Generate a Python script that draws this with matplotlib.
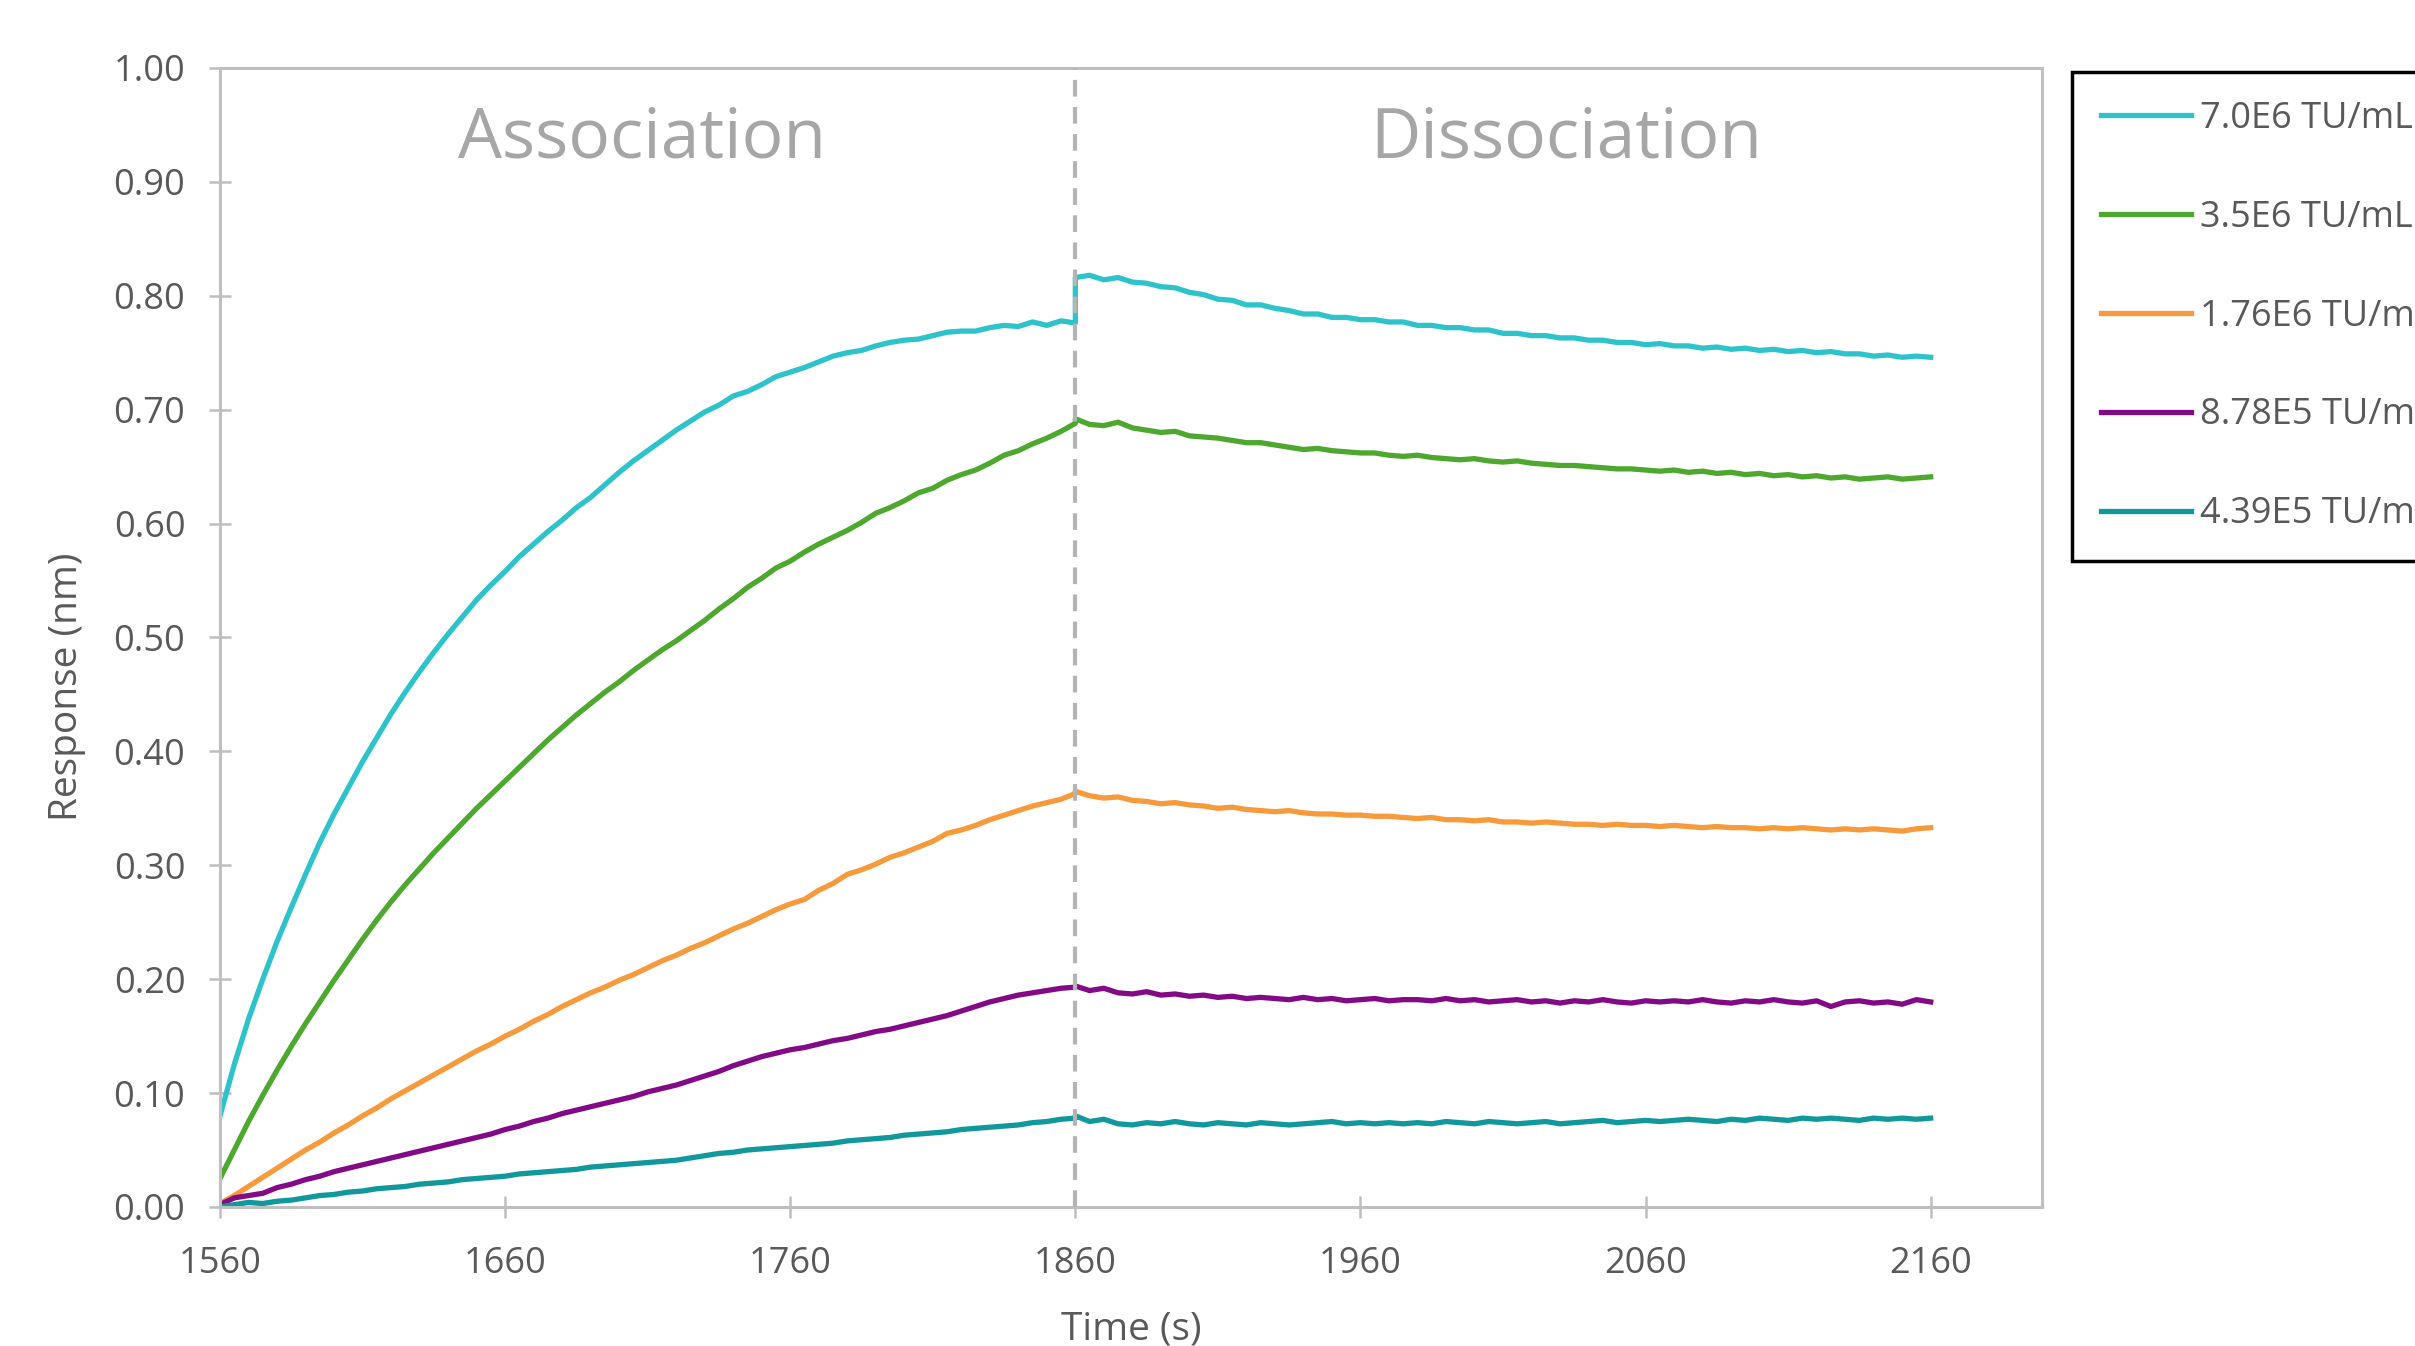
import numpy as np
import matplotlib
matplotlib.use('Agg')
from matplotlib import pyplot as plt
from matplotlib.ticker import FormatStrFormatter

plt.rcParams['font.family'] = ['Open Sans', 'DejaVu Sans']

# 时间轴：结合段与解离段，每 5 s 一个读数
assoc_time = np.arange(1560, 1861, 5)
dissoc_time = np.arange(1860, 2161, 5)

labels = ['7.0E6 TU/mL', '3.5E6 TU/mL', '1.76E6 TU/mL', '8.78E5 TU/mL', '4.39E5 TU/mL']
colors = ['#2EC3CB', '#4EA72E', '#F79A3B', '#820A86', '#10989C']

# 7.0E6
cyan_assoc = [0.080, 0.125, 0.165, 0.200, 0.233, 0.263, 0.292, 0.320, 0.345, 0.368,
              0.391, 0.412, 0.433, 0.452, 0.470, 0.487, 0.503, 0.518, 0.533, 0.546,
              0.558, 0.571, 0.582, 0.593, 0.603, 0.614, 0.623, 0.634, 0.645, 0.655,
              0.664, 0.673, 0.682, 0.690, 0.698, 0.704, 0.712, 0.716, 0.722, 0.729,
              0.733, 0.737, 0.742, 0.747, 0.750, 0.752, 0.756, 0.759, 0.761, 0.762,
              0.765, 0.768, 0.769, 0.769, 0.772, 0.774, 0.773, 0.777, 0.774, 0.778,
              0.776]
cyan_dissoc = [0.816, 0.818, 0.814, 0.816, 0.812, 0.811, 0.808, 0.807, 0.803, 0.801,
               0.797, 0.796, 0.792, 0.792, 0.789, 0.787, 0.784, 0.784, 0.781, 0.781,
               0.779, 0.779, 0.777, 0.777, 0.774, 0.774, 0.772, 0.772, 0.770, 0.770,
               0.767, 0.767, 0.765, 0.765, 0.763, 0.763, 0.761, 0.761, 0.759, 0.759,
               0.757, 0.758, 0.756, 0.756, 0.754, 0.755, 0.753, 0.754, 0.752, 0.753,
               0.751, 0.752, 0.750, 0.751, 0.749, 0.749, 0.747, 0.748, 0.746, 0.747,
               0.746]

# 3.5E6
green_assoc = [0.025, 0.050, 0.075, 0.098, 0.120, 0.141, 0.161, 0.180, 0.199, 0.217,
               0.235, 0.252, 0.268, 0.283, 0.297, 0.311, 0.324, 0.337, 0.350, 0.362,
               0.374, 0.386, 0.398, 0.410, 0.421, 0.432, 0.442, 0.452, 0.461, 0.471,
               0.480, 0.489, 0.497, 0.506, 0.515, 0.525, 0.534, 0.544, 0.552, 0.561,
               0.567, 0.575, 0.582, 0.588, 0.594, 0.601, 0.609, 0.614, 0.620, 0.627,
               0.631, 0.638, 0.643, 0.647, 0.653, 0.660, 0.664, 0.670, 0.675, 0.681,
               0.688]
green_dissoc = [0.692, 0.687, 0.686, 0.689, 0.684, 0.682, 0.680, 0.681, 0.677, 0.676,
                0.675, 0.673, 0.671, 0.671, 0.669, 0.667, 0.665, 0.666, 0.664, 0.663,
                0.662, 0.662, 0.660, 0.659, 0.660, 0.658, 0.657, 0.656, 0.657, 0.655,
                0.654, 0.655, 0.653, 0.652, 0.651, 0.651, 0.650, 0.649, 0.648, 0.648,
                0.647, 0.646, 0.647, 0.645, 0.646, 0.644, 0.645, 0.643, 0.644, 0.642,
                0.643, 0.641, 0.642, 0.640, 0.641, 0.639, 0.640, 0.641, 0.639, 0.640,
                0.641]

# 1.76E6
orange_assoc = [0.003, 0.010, 0.018, 0.026, 0.034, 0.042, 0.050, 0.057, 0.065, 0.072,
                0.080, 0.087, 0.095, 0.102, 0.109, 0.116, 0.123, 0.130, 0.137, 0.143,
                0.150, 0.156, 0.163, 0.169, 0.176, 0.182, 0.188, 0.193, 0.199, 0.204,
                0.210, 0.216, 0.221, 0.227, 0.232, 0.238, 0.244, 0.249, 0.255, 0.261,
                0.266, 0.270, 0.278, 0.284, 0.292, 0.296, 0.301, 0.307, 0.311, 0.316,
                0.321, 0.328, 0.331, 0.335, 0.340, 0.344, 0.348, 0.352, 0.355, 0.358,
                0.363]
orange_dissoc = [0.365, 0.361, 0.359, 0.360, 0.357, 0.356, 0.354, 0.355, 0.353, 0.352,
                 0.350, 0.351, 0.349, 0.348, 0.347, 0.348, 0.346, 0.345, 0.345, 0.344,
                 0.344, 0.343, 0.343, 0.342, 0.341, 0.342, 0.340, 0.340, 0.339, 0.340,
                 0.338, 0.338, 0.337, 0.338, 0.337, 0.336, 0.336, 0.335, 0.336, 0.335,
                 0.335, 0.334, 0.335, 0.334, 0.333, 0.334, 0.333, 0.333, 0.332, 0.333,
                 0.332, 0.333, 0.332, 0.331, 0.332, 0.331, 0.332, 0.331, 0.330, 0.332,
                 0.333]

# 8.78E5
purple_assoc = [0.002, 0.008, 0.010, 0.012, 0.017, 0.020, 0.024, 0.027, 0.031, 0.034,
                0.037, 0.040, 0.043, 0.046, 0.049, 0.052, 0.055, 0.058, 0.061, 0.064,
                0.068, 0.071, 0.075, 0.078, 0.082, 0.085, 0.088, 0.091, 0.094, 0.097,
                0.101, 0.104, 0.107, 0.111, 0.115, 0.119, 0.124, 0.128, 0.132, 0.135,
                0.138, 0.140, 0.143, 0.146, 0.148, 0.151, 0.154, 0.156, 0.159, 0.162,
                0.165, 0.168, 0.172, 0.176, 0.180, 0.183, 0.186, 0.188, 0.190, 0.192,
                0.193]
purple_dissoc = [0.194, 0.190, 0.192, 0.188, 0.187, 0.189, 0.186, 0.187, 0.185, 0.186,
                 0.184, 0.185, 0.183, 0.184, 0.183, 0.182, 0.184, 0.182, 0.183, 0.181,
                 0.182, 0.183, 0.181, 0.182, 0.182, 0.181, 0.183, 0.181, 0.182, 0.180,
                 0.181, 0.182, 0.180, 0.181, 0.179, 0.181, 0.180, 0.182, 0.180, 0.179,
                 0.181, 0.180, 0.181, 0.180, 0.182, 0.180, 0.179, 0.181, 0.180, 0.182,
                 0.180, 0.179, 0.181, 0.176, 0.180, 0.181, 0.179, 0.180, 0.178, 0.182,
                 0.180]

# 4.39E5
teal_assoc = [0.000, 0.002, 0.004, 0.003, 0.005, 0.006, 0.008, 0.010, 0.011, 0.013,
              0.014, 0.016, 0.017, 0.018, 0.020, 0.021, 0.022, 0.024, 0.025, 0.026,
              0.027, 0.029, 0.030, 0.031, 0.032, 0.033, 0.035, 0.036, 0.037, 0.038,
              0.039, 0.040, 0.041, 0.043, 0.045, 0.047, 0.048, 0.050, 0.051, 0.052,
              0.053, 0.054, 0.055, 0.056, 0.058, 0.059, 0.060, 0.061, 0.063, 0.064,
              0.065, 0.066, 0.068, 0.069, 0.070, 0.071, 0.072, 0.074, 0.075, 0.077,
              0.078]
teal_dissoc = [0.080, 0.075, 0.077, 0.073, 0.072, 0.074, 0.073, 0.075, 0.073, 0.072,
               0.074, 0.073, 0.072, 0.074, 0.073, 0.072, 0.073, 0.074, 0.075, 0.073,
               0.074, 0.073, 0.074, 0.073, 0.074, 0.073, 0.075, 0.074, 0.073, 0.075,
               0.074, 0.073, 0.074, 0.075, 0.073, 0.074, 0.075, 0.076, 0.074, 0.075,
               0.076, 0.075, 0.076, 0.077, 0.076, 0.075, 0.077, 0.076, 0.078, 0.077,
               0.076, 0.078, 0.077, 0.078, 0.077, 0.076, 0.078, 0.077, 0.078, 0.077,
               0.078]

assoc_all = [cyan_assoc, green_assoc, orange_assoc, purple_assoc, teal_assoc]
dissoc_all = [cyan_dissoc, green_dissoc, orange_dissoc, purple_dissoc, teal_dissoc]

fig = plt.figure(figsize=(24.15, 13.46), dpi=100)
fig.patch.set_facecolor('white')
ax = fig.add_axes([0.0911, 0.1033, 0.7544, 0.8462])

t = np.concatenate([assoc_time, dissoc_time])
for a, d, c, lab in zip(assoc_all, dissoc_all, colors, labels):
    ax.plot(t, a + d, color=c, lw=3.8, label=lab, zorder=2)

# 结合/解离分界线
ax.axvline(1860, color='#B4B4B4', lw=3, ls=(0, (4, 2.5)), zorder=3)

ax.text(1708, 0.937, 'Association', ha='center', va='center', fontsize=50, color='#A6A6A6')
ax.text(2032, 0.937, 'Dissociation', ha='center', va='center', fontsize=50, color='#A6A6A6')

ax.set_xlim(1560, 2199)
ax.set_ylim(0, 1.0)
ax.set_xticks(np.arange(1560, 2161, 100))
ax.set_yticks(np.arange(0, 1.01, 0.1))
ax.yaxis.set_major_formatter(FormatStrFormatter('%.2f'))

for s in ax.spines.values():
    s.set_color('#BFBFBF')
    s.set_linewidth(2.2)

ax.tick_params(axis='both', direction='inout', length=16, width=1.8, color='#BFBFBF',
               labelsize=26, labelcolor='#595959')
ax.tick_params(axis='y', pad=17)
ax.tick_params(axis='x', pad=20)

ax.set_ylabel('Response (nm)', fontsize=28, color='#595959')
ax.yaxis.set_label_coords(-0.0735, 0.4565)
ax.set_xlabel('Time (s)', fontsize=28, color='#595959')
ax.xaxis.set_label_coords(0.5, -0.091)

leg = fig.legend(loc='upper left', bbox_to_anchor=(0.858, 0.9465), frameon=True,
                 fancybox=False, edgecolor='black', fontsize=26, handlelength=2.5,
                 handletextpad=0.25, labelspacing=1.74, borderpad=0.8, borderaxespad=0,
                 labelcolor='#595959')
leg.get_frame().set_linewidth(2.5)
leg.get_frame().set_alpha(1)

fig.savefig('out.png', dpi=100)
